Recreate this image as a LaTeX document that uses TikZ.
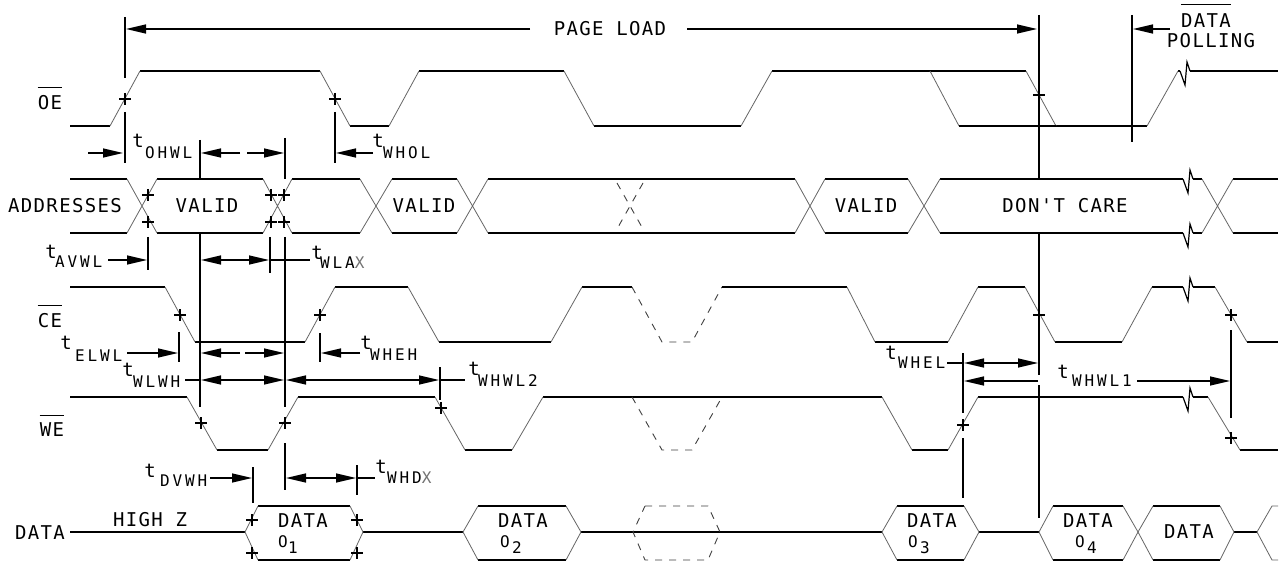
\documentclass[tikz,border=0pt]{standalone}
\usepackage{fontspec}
\usetikzlibrary{arrows.meta}
\defaultfontfeatures{}
\newfontfamily\mainfam[LetterSpace=7]{DejaVu Sans Mono}
\newfontfamily\subfam[LetterSpace=18]{DejaVu Sans Mono}
\tikzset{
  hl/.style={line width=1.4pt},
  sl/.style={line width=0.8pt, black!60},
  vl/.style={line width=1.3pt},
  pm/.style={line width=1.2pt},
  ar/.style={line width=1.3pt,-{Triangle[length=20pt,width=9pt]}},
  dar/.style={line width=1.3pt,{Triangle[length=20pt,width=9pt]}-{Triangle[length=20pt,width=9pt]}},
  txt/.style={inner sep=0pt, font=\mainfam\fontsize{19}{19}\selectfont},
  smt/.style={inner sep=0pt, font=\mainfam\fontsize{16}{16}\selectfont},
  sub/.style={inner sep=0pt, anchor=west, font=\subfam\fontsize{16}{16}\selectfont},
  dsh/.style={line width=0.9pt, black!75, dash pattern=on 7pt off 7pt},
  ovl/.style={line width=1pt},
}
\newcommand\sigwave[1]{%
  \foreach \a/\b/\y [remember=\b as \pb (initially -1), remember=\y as \py (initially -1)] in {#1}{%
    \draw[hl] (\a,\y) -- (\b,\y);
    \ifdim\pb pt>0pt \draw[sl] (\pb,\py) -- (\a,\y);\fi
  }}
\newcommand\busw[3]{%
  \foreach \a/\b [remember=\b as \pb (initially -1)] in {#1}{%
    \draw[hl] (\a,#2) -- (\b,#2) (\a,#3) -- (\b,#3);
    \ifdim\pb pt>0pt \draw[sl] (\pb,#2) -- (\a,#3) (\pb,#3) -- (\a,#2);\fi
  }}
\newcommand\hexd[4]{%
  \draw[hl] (#2,506) -- (#3,506) (#2,560) -- (#3,560);
  \draw[sl] (#2,506) -- (#1,532) -- (#2,560) (#3,506) -- (#4,532) -- (#3,560);}
\newcommand\brk[2]{\draw[line width=1.2pt] (#1,#2) -- ++(5,14) -- ++(2,-23) -- ++(3,9);}
\newcommand\pmk[2]{\draw[pm] (#1,#2) +(-6,0) -- +(6,0) +(0,-6) -- +(0,6);}
\begin{document}
\begin{tikzpicture}[x=1pt,y=-1pt]
\fill[white] (0,0) rectangle (1285,564);
\useasboundingbox (0,0) rectangle (1285,564);
% ---------- OE ----------
\sigwave{70/110/126, 140/320/71, 350/389/126, 419/564/71, 594/741/126, 772/1026/71, 1056/1147/126, 1178/1180/71}
\draw[sl] (930,71) -- (959,126);
\draw[hl] (959,126) -- (1056,126);
\brk{1180}{71}
\draw[hl] (1190,71) -- (1278,71);
% ---------- ADDRESSES ----------
\busw{70/127,157/263,292/360,392/457,488/795,825/908,940/1183}{179}{233}
\brk{1183}{179}
\brk{1183}{233}
\busw{1193/1202,1233/1278}{179}{233}
\draw[dsh] (617,183) -- (643,229) (643,183) -- (617,229);
% ---------- CE ----------
\sigwave{70/165/287,195/305/342,335/408/287,439/551/342,582/632/287}
\draw[dsh] (632,287) -- (662,342) -- (692,342) -- (722,287);
\sigwave{722/847/287,875/948/342,978/1025/287,1055/1122/342,1152/1183/287}
\brk{1183}{287}
\sigwave{1193/1215/287,1247/1278/342}
% ---------- WE ----------
\sigwave{70/187/397,217/268/450,298/435/397,465/512/450,543/882/397,912/948/450,978/1183/397}
\brk{1183}{397}
\sigwave{1193/1208/397,1240/1278/450}
\draw[dsh] (632,397) -- (662,450) -- (692,450) -- (722,397);
% ---------- DATA ----------
\draw[hl] (70,532) -- (245,532) (363,532) -- (463,532) (581,532) -- (882,532)
          (979,532) -- (1039,532) (1234,532) -- (1257,532);
\hexd{245}{258}{350}{363}
\hexd{463}{478}{566}{581}
\hexd{882}{897}{964}{979}
\hexd{1039}{1053}{1123}{1138}
\hexd{1138}{1153}{1220}{1234}
\draw[sl] (1278,506) -- (1272,506) -- (1257,532) -- (1272,560) -- (1278,560);
\draw[dsh] (645,506) -- (708,506) -- (720,532) -- (708,560) -- (645,560) -- (633,532) -- cycle;
% ---------- vertical timing lines ----------
\draw[vl] (125,17) -- (125,78) (125,112) -- (125,163);
\draw[vl] (335,112) -- (335,163);
\draw[vl] (200,140) -- (200,179) (200,233) -- (200,407);
\draw[vl] (285,138) -- (285,179) (285,237) -- (285,407) (285,443) -- (285,490);
\draw[vl] (148,237) -- (148,270);
\draw[vl] (270,237) -- (270,273);
\draw[vl] (179,332) -- (179,362);
\draw[vl] (320,333) -- (320,362);
\draw[vl] (440,367) -- (440,400);
\draw[vl] (253,467) -- (253,503);
\draw[vl] (357,465) -- (357,495);
\draw[vl] (1039,15) -- (1039,179) (1039,233) -- (1039,375) (1039,385) -- (1039,518);
\draw[vl] (1132,15) -- (1132,142);
\draw[vl] (963,353) -- (963,413) (963,438) -- (963,498);
\draw[vl] (1231,330) -- (1231,418);
% ---------- plus marks ----------
\pmk{125}{99} \pmk{335}{99} \pmk{1039}{95}
\pmk{148}{195} \pmk{148}{222} \pmk{271}{195} \pmk{271}{222} \pmk{284}{195} \pmk{284}{222}
\pmk{180}{315} \pmk{320}{315} \pmk{1039}{315} \pmk{1231}{315}
\pmk{201}{423} \pmk{285}{423} \pmk{441}{408} \pmk{963}{425} \pmk{1231}{438}
\pmk{252}{520} \pmk{252}{553} \pmk{357}{520} \pmk{357}{553}
% ---------- arrows ----------
\draw[ar] (530,29) -- (126,29);
\draw[ar] (687,29) -- (1037,29);
\draw[ar] (1170,29) -- (1133,29);
\draw[ar] (88,153) -- (123,153);
\draw[ar] (240,153) -- (201,153);
\draw[ar] (247,153) -- (284,153);
\draw[ar] (373,153) -- (336,153);
\draw[ar] (108,260) -- (147,260);
\draw[dar] (201,260) -- (269,260);
\draw[vl] (270,260) -- (310,260);
\draw[ar] (127,353) -- (178,353);
\draw[ar] (240,353) -- (201,353);
\draw[ar] (245,353) -- (284,353);
\draw[ar] (360,353) -- (321,353);
\draw[vl] (185,380) -- (200,380);
\draw[dar] (201,380) -- (284,380);
\draw[dar] (286,380) -- (439,380);
\draw[vl] (440,380) -- (465,380);
\draw[ar] (210,478) -- (252,478);
\draw[dar] (286,478) -- (356,478);
\draw[vl] (357,478) -- (375,478);
\draw[vl] (947,363) -- (963,363);
\draw[dar] (964,363) -- (1038,363);
\draw[ar] (1038,381) -- (964,381);
\draw[ar] (1137,381) -- (1230,381);
% ---------- labels ----------
\node[txt] (pl) at (610,29) {PAGE LOAD};
\node[txt] (dpa) at (1206,21) {DATA};
\draw[ovl] ([yshift=9pt]dpa.north west) -- ([yshift=9pt]dpa.north east);
\node[txt] (dpb) at (1211,41) {POLLING};
\node[txt] (oe) at (50,103) {OE};
\draw[ovl] ([yshift=8pt]oe.north west) -- ([yshift=8pt]oe.north east);
\node[txt] (addr) at (65,206) {ADDRESSES};
\node[txt] (ce) at (50,321) {CE};
\draw[ovl] ([yshift=8pt]ce.north west) -- ([yshift=8pt]ce.north east);
\node[txt] (we) at (52,430) {WE};
\draw[ovl] ([yshift=7pt]we.north west) -- ([yshift=7pt]we.north east);
\node[txt] (dlab) at (40,533) {DATA};
\node[txt] (hz) at (150,520) {HIGH Z};
\node[txt] (v1) at (207,206) {VALID};
\node[txt] (v2) at (424,206) {VALID};
\node[txt] (v3) at (866,206) {VALID};
\node[txt] (dc) at (1065,206) {DON'T CARE};
% hex labels
\node[txt] (h1) at (303,521) {DATA};
\node[smt] (h1o) at (283,542) {O};
\node[smt] (h1n) at (293,548) {1};
\node[txt] (h2) at (523,521) {DATA};
\node[smt] (h2o) at (505,542) {O};
\node[smt] (h2n) at (517,548) {2};
\node[txt] (h4) at (932,521) {DATA};
\node[smt] (h4o) at (913,542) {O};
\node[smt] (h4n) at (925,548) {3};
\node[txt] (h5) at (1088,521) {DATA};
\node[smt] (h5o) at (1080,542) {O};
\node[smt] (h5n) at (1092,548) {4};
\node[txt] (h6) at (1189,532) {DATA};
% timing labels
\node[txt] (t1) at (138,141) {t};  \node[sub] (s1) at (145,153) {OHWL};
\node[txt] (t2) at (378,141) {t};  \node[sub] (s2) at (383,153) {WHOL};
\node[txt] (t3) at (51,252) {t};   \node[sub] (s3) at (55,262) {AVWL};
\node[txt] (t4) at (317,253) {t};  \node[sub] (s4) at (320,263) {WLA{\color{black!55}X}};
\node[txt] (t5) at (66,343) {t};   \node[sub] (s5) at (75,356) {ELWL};
\node[txt] (t6) at (366,343) {t};  \node[sub] (s6) at (370,355) {WHEH};
\node[txt] (t7) at (128,370) {t};  \node[sub] (s7) at (133,382) {WLWH};
\node[txt] (t8) at (474,369) {t};  \node[sub] (s8) at (478,381) {WHWL2};
\node[txt] (t9) at (150,471) {t};  \node[sub] (s9) at (160,481) {DVWH};
\node[txt] (t10) at (381,467) {t}; \node[sub] (s10) at (387,478) {WHD{\color{black!55}X}};
\node[txt] (t11) at (891,353) {t}; \node[sub] (s11) at (898,363) {WHEL};
\node[txt] (t12) at (1063,372) {t};\node[sub] (s12) at (1072,381) {WHWL1};
\end{tikzpicture}
\end{document}
